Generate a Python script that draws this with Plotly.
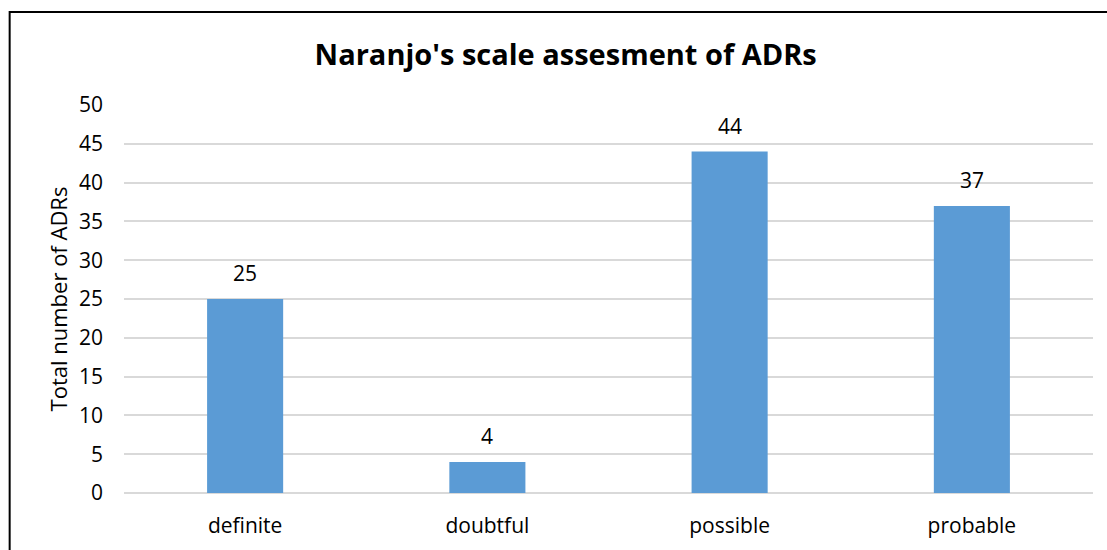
import plotly.graph_objects as go

categories = ["definite", "doubtful", "possible", "probable"]
values = [25, 4, 44, 37]
y_ticks = [0, 5, 10, 15, 20, 25, 30, 35, 40, 45, 50]

FONT = "Open Sans"

fig = go.Figure(go.Bar(
    x=categories, y=values,
    marker=dict(color="#5b9bd5", line=dict(width=0)),
))

for c, v in zip(categories, values):
    fig.add_annotation(x=c, y=v, text=str(v), showarrow=False, xref="x", yref="y",
                       yanchor="bottom", yshift=10,
                       font=dict(family=FONT, size=21, color="#000000"))

fig.update_layout(
    width=1107, height=550,
    margin=dict(l=124, r=14, t=105, b=57),
    paper_bgcolor="white", plot_bgcolor="white",
    bargap=0.686,
    showlegend=False,
    title=dict(text="<b>Naranjo's scale assesment of ADRs</b>", x=0.511, xanchor="center",
               y=0.9, yanchor="middle",
               font=dict(family=FONT, size=29, color="#000000")),
    xaxis=dict(showgrid=False, showline=False, ticks="", ticklabelstandoff=18,
               tickfont=dict(family=FONT, size=21, color="#000000")),
    yaxis=dict(range=[0, 50], tickvals=y_ticks, showgrid=True, gridcolor="#d9d9d9",
               gridwidth=1.5, zeroline=True, zerolinecolor="#d9d9d9", zerolinewidth=1.5,
               showline=False, ticks="", ticklabelstandoff=20,
               tickfont=dict(family=FONT, size=21, color="#000000"),
               title=dict(text="Total number of ADRs", standoff=5,
                          font=dict(family=FONT, size=22, color="#000000"))),
    shapes=[dict(type="rect", xref="paper", yref="paper",
                 x0=-0.118, x1=1.03, y0=-0.2, y1=1.2397,
                 line=dict(color="#000000", width=2), fillcolor="rgba(0,0,0,0)")],
)

fig.write_html("out.html", config={"displayModeBar": False},
               post_script="document.body.style.margin='0';")
